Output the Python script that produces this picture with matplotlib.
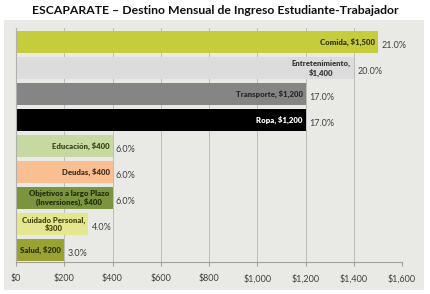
import matplotlib.pyplot as plt
from matplotlib.patches import Rectangle

# data (top to bottom)
labels = ["Comida, $1,500", "Entretenimiento,\n$1,400", "Transporte, $1,200", "Ropa, $1,200",
          "Educación, $400", "Deudas, $400", "Objetivos a largo Plazo\n(Inversiones), $400",
          "Cuidado Personal,\n$300", "Salud, $200"]
values = [1500, 1400, 1200, 1200, 400, 400, 400, 300, 200]
pcts = [21.0, 20.0, 17.0, 17.0, 6.0, 6.0, 6.0, 4.0, 3.0]
colors = ["#c5cd3c", "#dcdcdc", "#858585", "#000000", "#c6d9a0",
          "#fabf90", "#7a9440", "#e4e690", "#9aa232"]
text_colors = ["#3a3a14", "#3a3a3a", "#2a2a2a", "#ffffff", "#3a4a1c",
               "#4a3020", "#23300c", "#4a4a10", "#2e3408"]
xticks = [0, 200, 400, 600, 800, 1000, 1200, 1400, 1600]

plt.rcParams['font.family'] = ['Lato', 'DejaVu Sans']
bg = "#e9e9e6"

fig = plt.figure(figsize=(4.3, 2.94), dpi=100, facecolor="white")
fig.patches.append(Rectangle((4/430, 1-290/294), 420/430, 270/294,
                             transform=fig.transFigure, facecolor=bg, edgecolor="none", zorder=-10))
ax = fig.add_axes([16/430, 1-262/294, 386/430, 234/294])
ax.set_facecolor(bg)

ypos = list(range(len(values)))[::-1]
ax.barh(ypos, values, height=0.85, color=colors, zorder=2)

for y, v, lab, p, tc in zip(ypos, values, labels, pcts, text_colors):
    ax.text(v - 12, y, lab, ha="right", va="center", fontsize=5.6, fontweight="heavy",
            color=tc, multialignment="center", zorder=3)
    ax.text(v + 14, y - 0.12, f"{p:.1f}%", ha="left", va="center", fontsize=6.5,
            color="#404040", zorder=3)

ax.set_xlim(0, 1600)
ax.set_ylim(-0.46, 8.54)
ax.set_xticks(xticks)
ax.set_xticklabels([f"${t:,}" for t in xticks], fontsize=6.5, color="#404040")
ax.set_yticks([])
ax.grid(axis="x", color="#bcbcbc", linewidth=0.7, zorder=1)
for s in ["top", "right"]:
    ax.spines[s].set_visible(False)
ax.spines["left"].set_color("#b0b0b0")
ax.spines["bottom"].set_color("#a0a0a0")
ax.tick_params(axis="x", length=3, color="#a0a0a0", pad=6)

fig.text(0.5, 1-10/294, "ESCAPARATE – Destino Mensual de Ingreso Estudiante-Trabajador",
         ha="center", va="center", fontsize=8.8, fontweight="bold", color="#111111")

fig.savefig("out.png", dpi=100, facecolor="white")
